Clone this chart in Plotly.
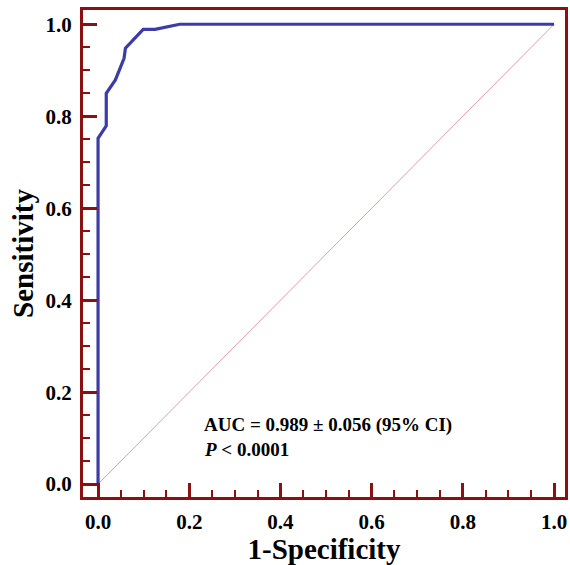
import plotly.graph_objects as go

# ROC curve points (1-Specificity, Sensitivity)
fpr = [0.0, 0.0, 0.018, 0.018, 0.038, 0.057, 0.060, 0.099, 0.125, 0.179, 1.0]
tpr = [0.0, 0.752, 0.779, 0.850, 0.879, 0.926, 0.948, 0.989, 0.989, 1.0, 1.0]
diag_x = [0.0, 1.0]
diag_y = [0.0, 1.0]
tick_vals = [0.0, 0.2, 0.4, 0.6, 0.8, 1.0]
tick_text = ["0.0", "0.2", "0.4", "0.6", "0.8", "1.0"]

frame = "#8B1010"
font = "Liberation Serif"

fig = go.Figure()
fig.add_trace(go.Scatter(x=diag_x, y=diag_y, mode="lines",
                         line=dict(color="#E0A0A0", width=1), showlegend=False, hoverinfo="skip"))
fig.add_trace(go.Scatter(x=fpr, y=tpr, mode="lines",
                         line=dict(color="#3C3CA8", width=3.2), showlegend=False))

axis_common = dict(
    showline=True, linecolor=frame, linewidth=3, mirror=True,
    showgrid=False, zeroline=False,
    ticks="inside", ticklen=14, tickwidth=3, tickcolor=frame,
    tickvals=tick_vals, ticktext=tick_text,
    tickfont=dict(family=font, size=21, color="black", weight="bold"),
    minor=dict(ticks="inside", ticklen=7, tickwidth=2, tickcolor=frame, dtick=0.05, tick0=0),
)

fig.update_xaxes(range=[-0.033, 1.024], ticklabelstandoff=4,
                 title=dict(text="<b>1-Specificity</b>", font=dict(family=font, size=29, color="black"), standoff=2),
                 **axis_common)
fig.update_yaxes(range=[-0.028, 1.031], ticklabelstandoff=4,
                 title=dict(text="<b>Sensitivity</b>", font=dict(family=font, size=29, color="black"), standoff=4),
                 **axis_common)

fig.add_annotation(x=0.227, y=0.128, xref="x", yref="y", xanchor="left", yanchor="middle",
                   text="<b>AUC = 0.989 ± 0.056 (95% CI)</b>", showarrow=False,
                   font=dict(family=font, size=19, color="black"))
fig.add_annotation(x=0.227, y=0.075, xref="x", yref="y", xanchor="left", yanchor="middle",
                   text="<b><i>P</i> < 0.0001</b>", showarrow=False,
                   font=dict(family=font, size=19, color="black"))

fig.update_layout(
    width=570, height=565,
    margin=dict(l=83, r=2, t=10, b=68),
    plot_bgcolor="white", paper_bgcolor="white",
)

fig.write_html("out.html")
